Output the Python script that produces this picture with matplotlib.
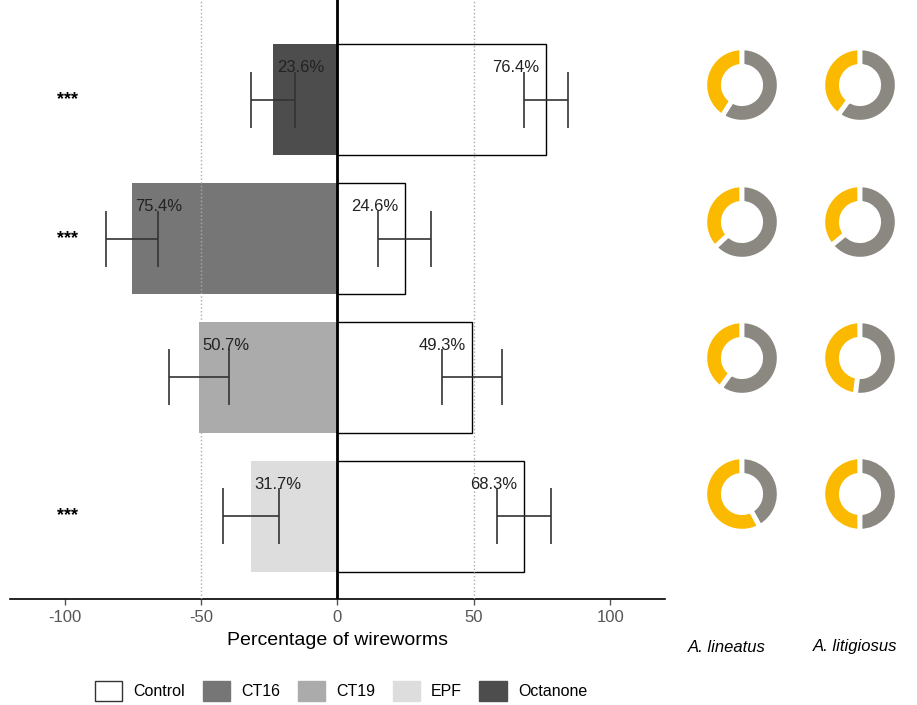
import numpy as np
import matplotlib.pyplot as plt
from matplotlib.patches import Patch

plt.rcParams['font.family'] = ['Liberation Sans', 'DejaVu Sans']
plt.rcParams['axes.unicode_minus'] = False

# rows from top to bottom
treatments = ['Octanone', 'CT16', 'CT19', 'EPF']
treat_pct = [23.6, 75.4, 50.7, 31.7]
treat_err = [8.0, 9.6, 11.0, 10.2]
control_pct = [76.4, 24.6, 49.3, 68.3]
control_err = [8.0, 9.8, 11.0, 10.0]
signif = ['***', '***', '', '***']

treat_colors = {'Control': 'white', 'CT16': '#767676', 'CT19': '#ababab',
                'EPF': '#dddddd', 'Octanone': '#4d4d4d'}

# share of yellow in the ring charts, per row, for each species
species = ['A. lineatus', 'A. litigiosus']
lineatus_share = [41, 37, 40, 58]
litigiosus_share = [40, 36, 48, 50]

fig = plt.figure(figsize=(9.17, 7.05), dpi=100)
ax = fig.add_axes([0.011, 0.150, 0.714, 0.85])

ypos = np.arange(len(treatments))[::-1] + 1
ax.barh(ypos, [-v for v in treat_pct], height=0.8,
        color=[treat_colors[t] for t in treatments], zorder=2)
ax.barh(ypos, control_pct, height=0.8, color='white', edgecolor='black',
        linewidth=1.0, zorder=2)
ax.errorbar([-v for v in treat_pct], ypos, xerr=treat_err, fmt='none',
            ecolor='#333333', elinewidth=1.2, capsize=20, capthick=1.2, zorder=4)
ax.errorbar(control_pct, ypos, xerr=control_err, fmt='none',
            ecolor='#333333', elinewidth=1.2, capsize=20, capthick=1.2, zorder=4)

for y, t, c, s in zip(ypos, treat_pct, control_pct, signif):
    ax.text(-t + 10, y + 0.23, f'{t}%', ha='center', va='center',
            fontsize=12, color='#222222', zorder=5)
    ax.text(c - 11, y + 0.23, f'{c}%', ha='center', va='center',
            fontsize=12, color='#222222', zorder=5)
    if s:
        ax.text(-99, y, s, ha='center', va='center', fontsize=13,
                fontweight='bold', color='black')

for gx in (-50, 50):
    ax.axvline(gx, color='#aaaaaa', linestyle=':', linewidth=1.0, zorder=3)
ax.axvline(0, color='black', linewidth=2.0, zorder=5)

ax.set_xlim(-120, 120)
ax.set_ylim(0.4, 4.72)
ax.set_xticks([-100, -50, 0, 50, 100])
ax.set_yticks([])
ax.tick_params(axis='x', colors='#555555', labelsize=12, length=4, width=1)
ax.set_xlabel('Percentage of wireworms', fontsize=14, labelpad=5)
for sp in ('top', 'right', 'left'):
    ax.spines[sp].set_visible(False)
ax.spines['bottom'].set_linewidth(1.2)

# ring charts
ring_cx = [742, 860]
ring_cy = [85, 222, 358, 494]
ring_r = 38
for col, shares in enumerate([lineatus_share, litigiosus_share]):
    for row, share in enumerate(shares):
        cx, cy = ring_cx[col], ring_cy[row]
        rax = fig.add_axes([(cx - ring_r) / 917, 1 - (cy + ring_r) / 705,
                            2 * ring_r / 917, 2 * ring_r / 705])
        rax.pie([share, 100 - share], colors=['#fbba00', '#8a8880'],
                startangle=90, counterclock=True, radius=1.0,
                wedgeprops=dict(width=0.5, edgecolor='white', linewidth=3.5))
        rax.set_xlim(-1.02, 1.02)
        rax.set_ylim(-1.02, 1.02)
        rax.set_aspect('equal')

label_x = [727, 855]
for name, lx in zip(species, label_x):
    fig.text(lx / 917, 1 - 647 / 705, name, ha='center', va='center',
             fontsize=12, style='italic')

handles = [Patch(facecolor=treat_colors[k], edgecolor='#333333' if k == 'Control' else treat_colors[k],
                 label=k) for k in ['Control', 'CT16', 'CT19', 'EPF', 'Octanone']]
fig.legend(handles=handles, loc='center', bbox_to_anchor=(0.372, 0.02), ncol=5,
           frameon=False, fontsize=11.5, handlelength=1.7, handleheight=1.6,
           columnspacing=1.1, handletextpad=0.7)

fig.savefig('out.png', dpi=100)
